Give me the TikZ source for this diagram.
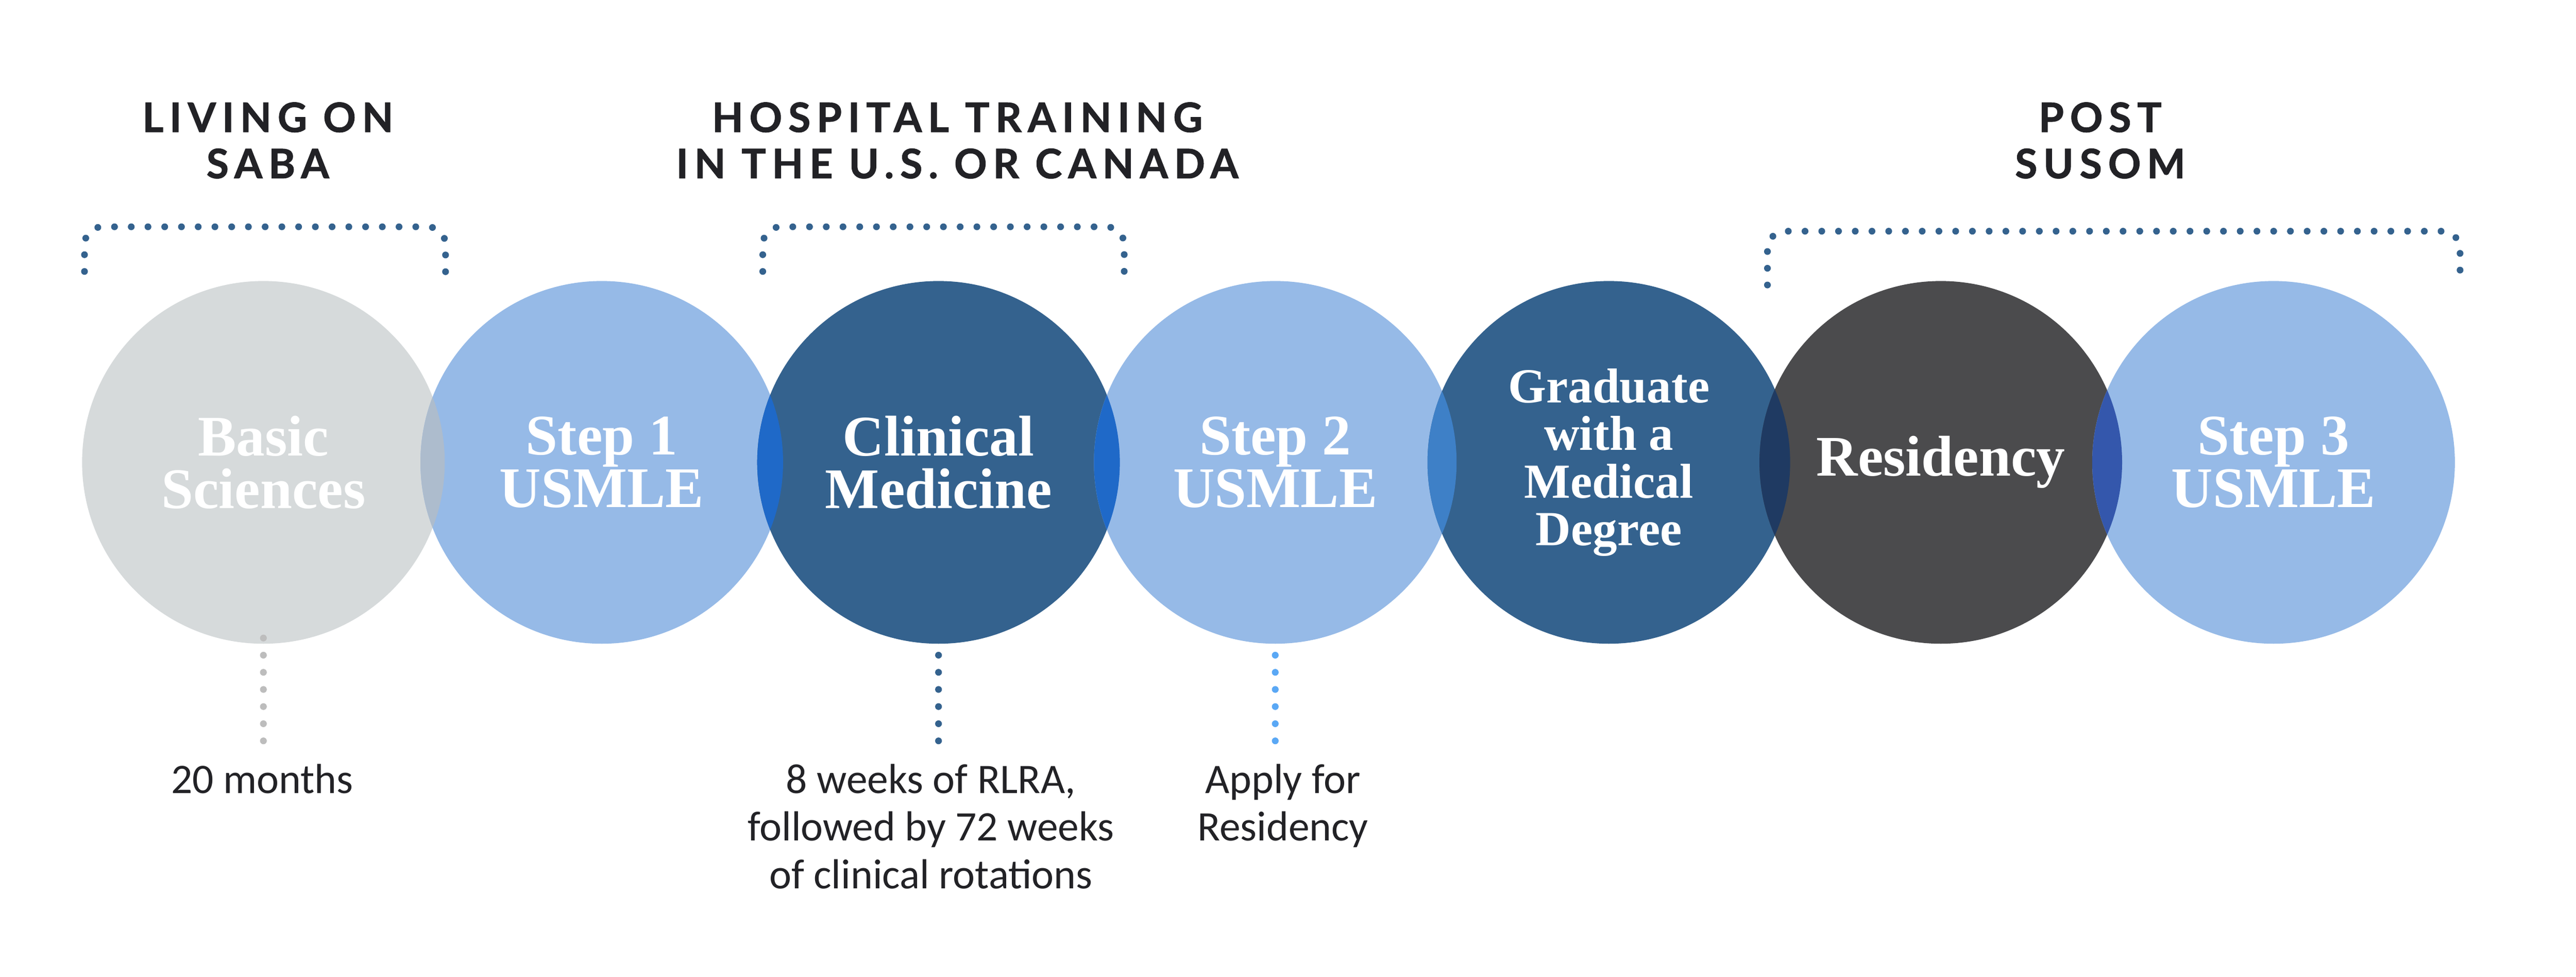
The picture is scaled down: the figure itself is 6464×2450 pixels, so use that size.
\documentclass[tikz,border=0pt]{standalone}
\usepackage{fontspec}
\setmainfont{Liberation Serif}
\newfontfamily\headfont[LetterSpace=15, BoldFeatures={FakeBold=1.2}]{Lato}
\newfontfamily\notefont{Carlito}
\usepackage{xcolor}
\usepackage{tikz}

\definecolor{ink}{HTML}{222226}
\definecolor{ltgray}{HTML}{D6DADB}
\definecolor{ltblue}{HTML}{96BAE7}
\definecolor{dkblue}{HTML}{34628E}
\definecolor{dkgray}{HTML}{4B4B4D}
\definecolor{brblue}{HTML}{5AA8F5}
\definecolor{dotgray}{HTML}{BDBDBD}
\definecolor{lapA}{HTML}{ADBCCD}
\definecolor{lapB}{HTML}{1F69C8}
\definecolor{lapC}{HTML}{3E80C7}
\definecolor{lapD}{HTML}{1F3A62}
\definecolor{lapE}{HTML}{3457AC}

\begin{document}
\begin{tikzpicture}[x=0.1mm, y=-0.1mm,
    stage/.style={circle, minimum size=9.1cm, inner sep=0pt, align=center, text=white,
                  font=\bfseries\fontsize{41}{37.5}\selectfont},
    head/.style={anchor=north, inner sep=0pt, align=center, text=ink,
                 font=\headfont\bfseries\fontsize{29}{33}\selectfont},
    note/.style={anchor=north, inner sep=0pt, align=center, text=ink,
                 font=\notefont\fontsize{30}{34}\selectfont},
    brace/.style={dkblue, line width=0.17cm, line cap=round, dash pattern=on 0pt off 0.42cm, rounded corners=0.45cm},
    drop/.style={line width=0.17cm, line cap=round, dash pattern=on 0pt off 0.43cm}]
      \path[use as bounding box, fill=white] (0,0) rectangle (6464,2450);

      \node[head]  (HL) at ( 672, 256)    {LIVING ON\\SABA};
      \node[head]  (HH) at (2402, 256)    {HOSPITAL TRAINING\\IN THE U.S. OR CANADA};
      \node[head]  (HP) at (5270, 256)    {POST\\SUSOM};

      \draw[brace] ( 212, 681) -- ( 212, 569) -- (1118, 569) -- (1118, 702);
      \draw[brace] (1914, 681) -- (1914, 569) -- (2821, 569) -- (2821, 702);
      \draw[brace] (4435, 715) -- (4435, 580) -- (6173, 580) -- (6173, 710);

      \node[stage, fill=ltgray]  (BS) at ( 661, 1160)    {Basic\\Sciences};
      \node[stage, fill=ltblue]  (S1) at (1510, 1160)    {Step 1\\USMLE};
      \node[stage, fill=dkblue]  (CM) at (2355, 1160)    {Clinical\\Medicine};
      \node[stage, fill=ltblue]  (S2) at (3200, 1160)    {Step 2\\USMLE};
      \node[stage, fill=dkblue, font=\bfseries\fontsize{35}{34}\selectfont]
                                 (GD) at (4037, 1160)    {Graduate\\with a\\Medical\\Degree};
      \node[stage, fill=dkgray]  (RS) at (4870, 1160)    {Residency};
      \node[stage, fill=ltblue]  (S3) at (5705, 1160)    {Step 3\\USMLE};

      % overlapping parts of neighbouring circles
      \foreach \a/\b/\c in {BS/S1/lapA, S1/CM/lapB, CM/S2/lapB, S2/GD/lapC, GD/RS/lapD, RS/S3/lapE} {
        \begin{scope}
          \clip (\a.center) circle[radius=4.55cm];
          \fill[\c] (\b.center) circle[radius=4.55cm];
        \end{scope}
      }

      \node[note]  (LM) at ( 658, 1916)    {20 months};
      \node[note]  (LW) at (2336, 1916)    {8 weeks of RLRA,\\followed by 72 weeks\\of clinical rotations};
      \node[note]  (LA) at (3219, 1916)    {Apply for\\Residency};

      \draw[drop, dotgray] ([yshift=0.15cm]BS.south)  -- ([yshift=0.57cm]BS.south |- LM.north);
      \draw[drop, dkblue]  ([yshift=-0.28cm]CM.south) -- ([yshift=0.57cm]CM.south |- LW.north);
      \draw[drop, brblue]  ([yshift=-0.28cm]S2.south) -- ([yshift=0.57cm]S2.south |- LA.north);
    \end{tikzpicture}
\end{document}
